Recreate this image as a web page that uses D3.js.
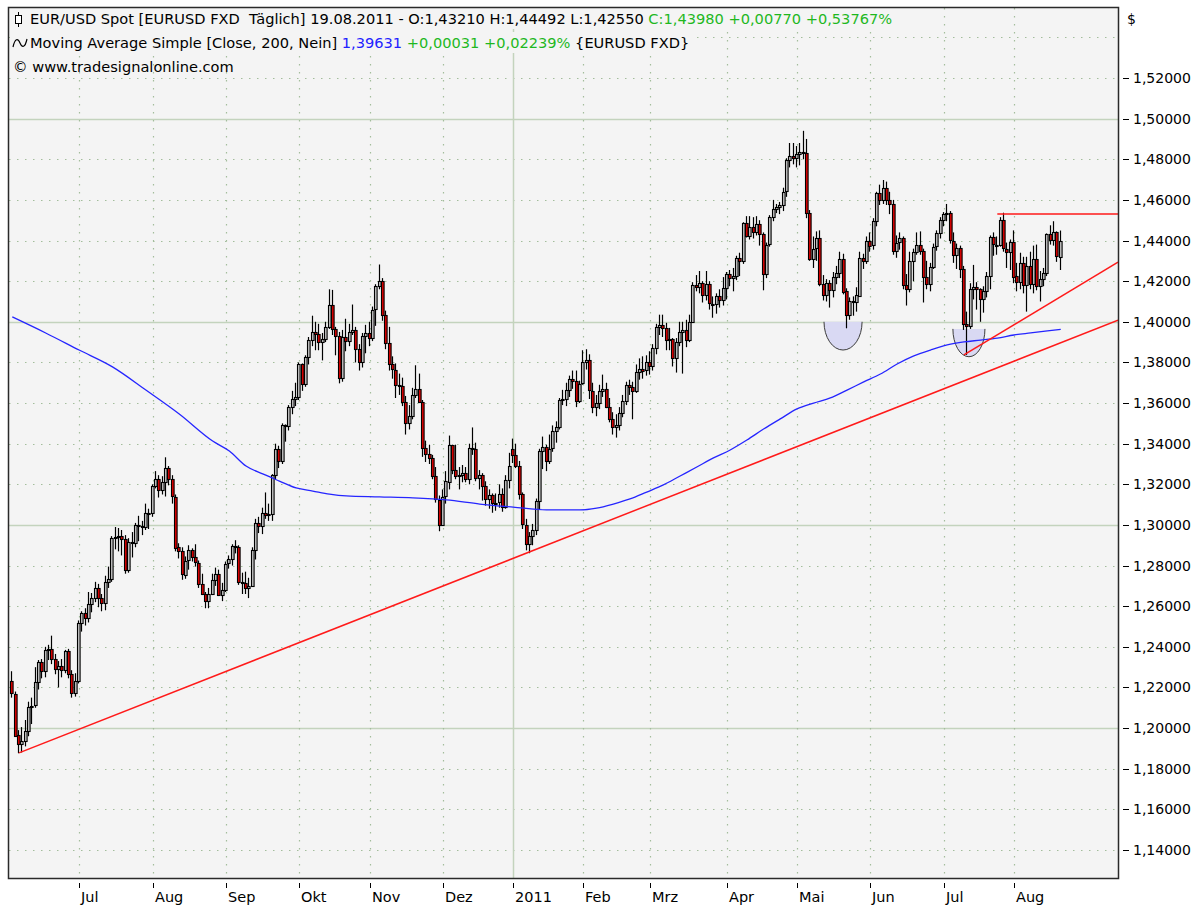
<!DOCTYPE html>
<html>
<head>
<meta charset="utf-8">
<script src="https://cdn.jsdelivr.net/npm/d3@7"></script>
<style>
    body { margin: 0; background: #fff; }
    svg { display: block; }
    text { font-family: "DejaVu Sans", Verdana, sans-serif; fill: #000; }
</style>
</head>
<body>
<svg id="chart" width="1198" height="906"></svg>
<script>
//////////////////////////////////////////////////////////////////////////////
// Data: EUR/USD daily candles [open, high, low, close], one array per month

const jun10 = [
    [1.2230,1.2280,1.2150,1.2170],[1.2170,1.2180,1.1960,1.1965],[1.1965,1.1990,1.1876,1.1920],
    [1.1920,1.2005,1.1880,1.1935],[1.1935,1.2040,1.1910,1.1985],[1.1985,1.2130,1.1960,1.2105],
    [1.2105,1.2150,1.2020,1.2110],[1.2110,1.2300,1.2100,1.2225],[1.2225,1.2335,1.2190,1.2325],
    [1.2325,1.2340,1.2245,1.2280],[1.2280,1.2400,1.2250,1.2385],[1.2385,1.2410,1.2335,1.2390],
    [1.2390,1.2455,1.2315,1.2340],[1.2340,1.2365,1.2265,1.2290],[1.2290,1.2330,1.2200,1.2305],
    [1.2305,1.2340,1.2250,1.2285],[1.2285,1.2385,1.2270,1.2380],[1.2380,1.2390,1.2245,1.2265],
    [1.2265,1.2285,1.2150,1.2170],[1.2170,1.2270,1.2155,1.2230]
];
const jul10 = [
    [1.2230,1.2530,1.2220,1.2515],[1.2515,1.2575,1.2475,1.2565],[1.2565,1.2590,1.2505,1.2540],
    [1.2540,1.2670,1.2520,1.2610],[1.2610,1.2665,1.2570,1.2640],[1.2640,1.2720,1.2620,1.2690],
    [1.2690,1.2710,1.2595,1.2640],[1.2640,1.2660,1.2575,1.2615],[1.2615,1.2750,1.2580,1.2720],
    [1.2720,1.2795,1.2690,1.2735],[1.2735,1.2945,1.2720,1.2935],[1.2935,1.2990,1.2880,1.2940],
    [1.2940,1.2985,1.2870,1.2945],[1.2945,1.2975,1.2850,1.2930],[1.2930,1.2950,1.2760,1.2775],
    [1.2775,1.2935,1.2765,1.2915],[1.2915,1.2965,1.2840,1.2910],[1.2910,1.3010,1.2890,1.3000],
    [1.3000,1.3045,1.2920,1.2995],[1.2995,1.3020,1.2950,1.2990],[1.2990,1.3105,1.2975,1.3060],
    [1.3060,1.3080,1.2980,1.3055]
];
const aug10 = [
    [1.3055,1.3200,1.3040,1.3190],[1.3190,1.3265,1.3180,1.3225],[1.3225,1.3245,1.3135,1.3170],
    [1.3170,1.3240,1.3150,1.3210],[1.3210,1.3333,1.3140,1.3280],[1.3280,1.3290,1.3195,1.3225],
    [1.3225,1.3245,1.3105,1.3140],[1.3140,1.3150,1.2870,1.2890],[1.2890,1.2910,1.2835,1.2870],
    [1.2870,1.2890,1.2730,1.2755],[1.2755,1.2845,1.2735,1.2825],[1.2825,1.2900,1.2780,1.2875],
    [1.2875,1.2885,1.2820,1.2840],[1.2840,1.2905,1.2795,1.2815],[1.2815,1.2825,1.2690,1.2710],
    [1.2710,1.2760,1.2655,1.2660],[1.2660,1.2670,1.2590,1.2625],[1.2625,1.2690,1.2590,1.2660],
    [1.2660,1.2760,1.2655,1.2730],[1.2730,1.2790,1.2700,1.2760],[1.2760,1.2780,1.2650,1.2655],
    [1.2655,1.2715,1.2625,1.2680]
];
const sep10 = [
    [1.2680,1.2820,1.2670,1.2810],[1.2810,1.2850,1.2785,1.2830],[1.2830,1.2905,1.2800,1.2895],
    [1.2895,1.2925,1.2860,1.2890],[1.2890,1.2900,1.2705,1.2720],[1.2720,1.2765,1.2660,1.2715],
    [1.2715,1.2770,1.2660,1.2690],[1.2690,1.2740,1.2640,1.2700],[1.2700,1.2890,1.2695,1.2875],
    [1.2875,1.3030,1.2830,1.3010],[1.3010,1.3040,1.2960,1.2995],[1.2995,1.3085,1.2955,1.3060],
    [1.3060,1.3160,1.3030,1.3050],[1.3050,1.3105,1.3020,1.3055],[1.3055,1.3250,1.3020,1.3245],
    [1.3245,1.3400,1.3225,1.3375],[1.3375,1.3390,1.3280,1.3315],[1.3315,1.3500,1.3300,1.3490],
    [1.3490,1.3495,1.3410,1.3485],[1.3485,1.3590,1.3465,1.3580],[1.3580,1.3660,1.3545,1.3620],
    [1.3620,1.3700,1.3585,1.3630]
];
const oct10 = [
    [1.3630,1.3800,1.3615,1.3790],[1.3790,1.3795,1.3660,1.3690],[1.3690,1.3835,1.3680,1.3825],
    [1.3825,1.3925,1.3790,1.3910],[1.3910,1.4030,1.3880,1.3950],[1.3950,1.4000,1.3860,1.3940],
    [1.3940,1.3990,1.3860,1.3900],[1.3900,1.3945,1.3810,1.3915],[1.3915,1.4000,1.3900,1.3975],
    [1.3975,1.4160,1.3965,1.4085],[1.4085,1.4157,1.3935,1.3965],[1.3965,1.3975,1.3835,1.3930],
    [1.3930,1.3950,1.3697,1.3725],[1.3725,1.3960,1.3705,1.3925],[1.3925,1.4015,1.3855,1.3905],
    [1.3905,1.3990,1.3880,1.3950],[1.3950,1.4085,1.3935,1.3960],[1.3960,1.3975,1.3800,1.3865],
    [1.3865,1.3890,1.3760,1.3800],[1.3800,1.3945,1.3775,1.3930],[1.3930,1.3985,1.3845,1.3945]
];
const nov10 = [
    [1.3945,1.4000,1.3880,1.3920],[1.3920,1.4075,1.3905,1.4060],[1.4060,1.4185,1.3980,1.4175],
    [1.4175,1.4282,1.4160,1.4200],[1.4200,1.4215,1.4005,1.4035],[1.4035,1.4055,1.3865,1.3895],
    [1.3895,1.3975,1.3760,1.3790],[1.3790,1.3830,1.3720,1.3765],[1.3765,1.3795,1.3625,1.3690],
    [1.3690,1.3745,1.3640,1.3685],[1.3685,1.3725,1.3585,1.3605],[1.3605,1.3635,1.3445,1.3500],
    [1.3500,1.3590,1.3470,1.3535],[1.3535,1.3675,1.3520,1.3640],[1.3640,1.3786,1.3625,1.3670],
    [1.3670,1.3745,1.3600,1.3605],[1.3605,1.3615,1.3335,1.3380],[1.3380,1.3415,1.3310,1.3350],
    [1.3350,1.3395,1.3300,1.3330],[1.3330,1.3345,1.3225,1.3240],[1.3240,1.3285,1.3110,1.3125],
    [1.3125,1.3145,1.2969,1.3000]
];
const dec10 = [
    [1.3000,1.3175,1.2995,1.3140],[1.3140,1.3265,1.3105,1.3215],[1.3215,1.3440,1.3175,1.3395],
    [1.3395,1.3395,1.3250,1.3270],[1.3270,1.3395,1.3225,1.3240],[1.3240,1.3285,1.3175,1.3245],
    [1.3245,1.3295,1.3210,1.3255],[1.3255,1.3285,1.3210,1.3225],[1.3225,1.3400,1.3200,1.3380],
    [1.3380,1.3480,1.3345,1.3375],[1.3375,1.3405,1.3215,1.3230],[1.3230,1.3270,1.3175,1.3245],
    [1.3245,1.3255,1.3120,1.3190],[1.3190,1.3215,1.3095,1.3125],[1.3125,1.3175,1.3080,1.3145],
    [1.3145,1.3155,1.3060,1.3105],[1.3105,1.3155,1.3070,1.3110],[1.3110,1.3200,1.3085,1.3150],
    [1.3150,1.3180,1.3065,1.3085],[1.3085,1.3245,1.3080,1.3220],[1.3220,1.3355,1.3180,1.3290]
];
const jan11 = [
    [1.3375,1.3425,1.3305,1.3345],[1.3345,1.3400,1.3280,1.3290],[1.3290,1.3315,1.3125,1.3150],
    [1.3150,1.3160,1.2980,1.3000],[1.3000,1.3030,1.2875,1.2905],[1.2905,1.2965,1.2861,1.2945],
    [1.2945,1.3005,1.2900,1.2975],[1.2975,1.3130,1.2950,1.3120],[1.3120,1.3375,1.3075,1.3365],
    [1.3365,1.3435,1.3275,1.3385],[1.3385,1.3395,1.3265,1.3315],[1.3315,1.3445,1.3300,1.3375],
    [1.3375,1.3490,1.3360,1.3460],[1.3460,1.3510,1.3405,1.3480],[1.3480,1.3625,1.3470,1.3615],
    [1.3615,1.3665,1.3590,1.3620],[1.3620,1.3700,1.3585,1.3665],[1.3665,1.3735,1.3630,1.3720],
    [1.3720,1.3760,1.3670,1.3710],[1.3710,1.3760,1.3580,1.3610],[1.3610,1.3710,1.3600,1.3695]
];
const feb11 = [
    [1.3695,1.3860,1.3690,1.3800],[1.3800,1.3865,1.3765,1.3810],[1.3810,1.3840,1.3620,1.3660],
    [1.3660,1.3700,1.3550,1.3580],[1.3580,1.3640,1.3535,1.3600],[1.3600,1.3690,1.3570,1.3660],
    [1.3660,1.3740,1.3630,1.3670],[1.3670,1.3700,1.3575,1.3580],[1.3580,1.3625,1.3505,1.3520],
    [1.3520,1.3555,1.3445,1.3480],[1.3480,1.3545,1.3430,1.3490],[1.3490,1.3580,1.3465,1.3550],
    [1.3550,1.3640,1.3530,1.3610],[1.3610,1.3705,1.3590,1.3690],[1.3690,1.3715,1.3640,1.3680],
    [1.3680,1.3705,1.3520,1.3660],[1.3660,1.3790,1.3650,1.3755],[1.3755,1.3820,1.3715,1.3770],
    [1.3770,1.3830,1.3720,1.3760],[1.3760,1.3835,1.3735,1.3800]
];
const mar11 = [
    [1.3800,1.3855,1.3740,1.3780],[1.3780,1.3890,1.3760,1.3870],[1.3870,1.3990,1.3840,1.3975],
    [1.3975,1.4035,1.3935,1.3985],[1.3985,1.4035,1.3925,1.3970],[1.3970,1.3995,1.3860,1.3910],
    [1.3910,1.3970,1.3860,1.3915],[1.3915,1.3920,1.3780,1.3820],[1.3820,1.3920,1.3750,1.3900],
    [1.3900,1.4000,1.3880,1.3950],[1.3950,1.4000,1.3745,1.3960],[1.3960,1.4010,1.3875,1.3910],
    [1.3910,1.4035,1.3900,1.4000],[1.4000,1.4195,1.3995,1.4180],[1.4180,1.4230,1.4150,1.4170],
    [1.4170,1.4250,1.4140,1.4190],[1.4190,1.4200,1.4095,1.4130],[1.4130,1.4250,1.4105,1.4185],
    [1.4185,1.4200,1.4060,1.4090],[1.4090,1.4125,1.4020,1.4085],[1.4085,1.4140,1.4040,1.4125],
    [1.4125,1.4160,1.4070,1.4105],[1.4105,1.4220,1.4080,1.4165]
];
const apr11 = [
    [1.4165,1.4245,1.4110,1.4235],[1.4235,1.4255,1.4175,1.4215],[1.4215,1.4265,1.4150,1.4225],
    [1.4225,1.4325,1.4205,1.4315],[1.4315,1.4340,1.4225,1.4300],[1.4300,1.4490,1.4285,1.4485],
    [1.4485,1.4520,1.4415,1.4420],[1.4420,1.4520,1.4405,1.4465],[1.4465,1.4515,1.4410,1.4440],
    [1.4440,1.4520,1.4425,1.4480],[1.4480,1.4500,1.4375,1.4430],[1.4430,1.4440,1.4155,1.4235],
    [1.4235,1.4390,1.4215,1.4380],[1.4380,1.4525,1.4370,1.4515],[1.4515,1.4600,1.4495,1.4555],
    [1.4555,1.4580,1.4535,1.4565],[1.4565,1.4590,1.4530,1.4575],[1.4575,1.4660,1.4545,1.4640],
    [1.4640,1.4805,1.4615,1.4795],[1.4795,1.4880,1.4760,1.4815],[1.4815,1.4880,1.4775,1.4805]
];
const may11 = [
    [1.4805,1.4865,1.4760,1.4825],[1.4825,1.4880,1.4770,1.4835],[1.4835,1.4940,1.4800,1.4830],
    [1.4830,1.4900,1.4510,1.4535],[1.4535,1.4550,1.4300,1.4310],[1.4310,1.4420,1.4265,1.4360],
    [1.4360,1.4445,1.4300,1.4410],[1.4410,1.4450,1.4175,1.4185],[1.4185,1.4230,1.4105,1.4130],
    [1.4130,1.4210,1.4100,1.4190],[1.4190,1.4205,1.4070,1.4155],[1.4155,1.4245,1.4120,1.4220],
    [1.4220,1.4275,1.4185,1.4240],[1.4240,1.4345,1.4215,1.4310],[1.4310,1.4335,1.4135,1.4150],
    [1.4150,1.4165,1.3968,1.4030],[1.4030,1.4120,1.4010,1.4100],[1.4100,1.4125,1.4030,1.4095],
    [1.4095,1.4170,1.4050,1.4130],[1.4130,1.4345,1.4125,1.4315],[1.4315,1.4335,1.4260,1.4300],
    [1.4300,1.4420,1.4285,1.4400]
];
const jun11 = [
    [1.4400,1.4440,1.4345,1.4375],[1.4375,1.4510,1.4355,1.4495],[1.4495,1.4640,1.4470,1.4635],
    [1.4635,1.4675,1.4575,1.4600],[1.4600,1.4698,1.4580,1.4660],[1.4660,1.4690,1.4575,1.4600],
    [1.4600,1.4640,1.4530,1.4580],[1.4580,1.4600,1.4330,1.4350],[1.4350,1.4425,1.4315,1.4390],
    [1.4390,1.4440,1.4355,1.4410],[1.4410,1.4420,1.4160,1.4180],[1.4180,1.4235,1.4080,1.4160],
    [1.4160,1.4345,1.4145,1.4300],[1.4300,1.4360,1.4200,1.4345],[1.4345,1.4440,1.4330,1.4380],
    [1.4380,1.4445,1.4330,1.4350],[1.4350,1.4360,1.4095,1.4220],[1.4220,1.4300,1.4160,1.4185],
    [1.4185,1.4290,1.4150,1.4270],[1.4270,1.4385,1.4260,1.4370],[1.4370,1.4450,1.4350,1.4435],
    [1.4435,1.4515,1.4410,1.4500]
];
const jul11 = [
    [1.4500,1.4540,1.4470,1.4530],[1.4530,1.4580,1.4495,1.4535],[1.4535,1.4545,1.4385,1.4400],
    [1.4400,1.4440,1.4290,1.4330],[1.4330,1.4385,1.4260,1.4365],[1.4365,1.4375,1.4215,1.4260],
    [1.4260,1.4275,1.3960,1.3990],[1.3990,1.4050,1.3837,1.3980],[1.3980,1.4190,1.3965,1.4160],
    [1.4160,1.4280,1.4110,1.4170],[1.4170,1.4195,1.4060,1.4160],[1.4160,1.4165,1.4000,1.4110],
    [1.4110,1.4175,1.4045,1.4150],[1.4150,1.4245,1.4120,1.4225],[1.4225,1.4425,1.4160,1.4415],
    [1.4415,1.4440,1.4325,1.4380],[1.4380,1.4420,1.4330,1.4375],[1.4375,1.4515,1.4370,1.4500],
    [1.4500,1.4537,1.4345,1.4360],[1.4360,1.4390,1.4265,1.4345],[1.4345,1.4405,1.4255,1.4395]
];
const aug11 = [
    [1.4395,1.4450,1.4190,1.4225],[1.4225,1.4290,1.4150,1.4195],[1.4195,1.4340,1.4160,1.4290],
    [1.4290,1.4320,1.4140,1.4180],[1.4180,1.4320,1.4050,1.4275],[1.4275,1.4345,1.4160,1.4185],
    [1.4185,1.4375,1.4140,1.4310],[1.4310,1.4380,1.4155,1.4175],[1.4175,1.4250,1.4100,1.4210],
    [1.4210,1.4265,1.4175,1.4240],[1.4240,1.4435,1.4225,1.4430],[1.4430,1.4475,1.4380,1.4400],
    [1.4400,1.4495,1.4375,1.4440],[1.4440,1.4445,1.4295,1.4321],[1.4321,1.44492,1.4255,1.4398]
];

const monthData   = [jun10, jul10, aug10, sep10, oct10, nov10, dec10, jan11, feb11, mar11, apr11, may11, jun11, jul11, aug11];
const monthLabels = [null, "Jul", "Aug", "Sep", "Okt", "Nov", "Dez", "2011", "Feb", "Mrz", "Apr", "Mai", "Jun", "Jul", "Aug"];

// 200-day simple moving average, read every few trading days
const maDays   = [0, 10, 20, 30, 40, 50, 60, 65, 70, 75, 80, 85, 90, 95, 100, 110, 120, 130, 140, 150, 160, 170, 175, 180, 185,
                  190, 195, 200, 205, 210, 215, 220, 225, 230, 235, 240, 245, 250, 255, 260, 265, 270, 275, 280, 285, 290, 295,
                  300, 305, 310, 314];
const maValues = [1.4024, 1.3945, 1.3861, 1.3778, 1.3664, 1.3546, 1.3413, 1.3364, 1.3290, 1.3251, 1.3216, 1.3182, 1.3167,
                  1.3152, 1.3143, 1.3138, 1.3133, 1.3123, 1.3103, 1.3088, 1.3074, 1.3074, 1.3083, 1.3103, 1.3128, 1.3162,
                  1.3197, 1.3241, 1.3285, 1.3330, 1.3369, 1.3418, 1.3472, 1.3522, 1.3571, 1.3600, 1.3625, 1.3664, 1.3704,
                  1.3743, 1.3792, 1.3832, 1.3861, 1.3886, 1.3901, 1.3910, 1.3920, 1.3935, 1.3945, 1.3955, 1.3963];

// drawn annotations: [day index, price]
const supportLine    = [[2, 1.1878], [155, 1.2868]];
const shortTrendLine = [[285, 1.3837], [331.2, 1.4294]];
const resistance     = [[295, 1.4531], [331.2, 1.4531]];
const bowls = [
    { day: 248.8, halfWidth: 5.7, top: 1.4000, bottom: 1.3861 },
    { day: 286.5, halfWidth: 4.8, top: 1.3965, bottom: 1.3828 }
];

const maLabel = { value: "1,39631", change: "+0,00031 +0,02239%" };
const yTicks = d3.range(1.14, 1.5401, 0.02);

//////////////////////////////////////////////////////////////////////////////
// Layout and scales

const plot = { left: 9, top: 8, right: 1118, bottom: 878 };
const step = 3.339;

const candles = monthData.flat().map(function(c, i) {
    return { i: i, o: c[0], h: c[1], l: c[2], c: c[3] };
});

let monthStarts = [];
let count = 0;
monthData.forEach(function(m, k) {
    if (monthLabels[k]) monthStarts.push({ i: count, label: monthLabels[k] });
    count += m.length;
});

const xScale = d3.scaleLinear().domain([0, candles.length - 1]).range([12.3, 12.3 + (candles.length - 1) * step]);
const yScale = d3.scaleLinear().domain([1.14, 1.52]).range([850, 78]);
const xMax = xScale.invert(plot.right);

const de = d3.formatLocale({ decimal: ",", thousands: ".", grouping: [3], currency: ["", "$"] });
const fmt5 = de.format(".5f");
const fmtSigned = de.format("+.5f");

const svg = d3.select("#chart");

svg.append("defs").append("clipPath").attr("id", "plotClip")
    .append("rect")
    .attr("x", plot.left).attr("y", plot.top)
    .attr("width", plot.right - plot.left).attr("height", plot.bottom - plot.top);

svg.append("rect")
    .attr("x", plot.left).attr("y", plot.top)
    .attr("width", plot.right - plot.left).attr("height", plot.bottom - plot.top)
    .attr("fill", "#f4f4f4");

//////////////////////////////////////////////////////////////////////////////
// Grid

const grid = svg.append("g").attr("clip-path", "url(#plotClip)");

function isMajor(v) { return Math.abs(v * 10 - Math.round(v * 10)) < 1e-6; }

grid.selectAll("line.h")
    .data(yTicks)
    .enter()
    .append("line")
    .attr("x1", plot.left).attr("x2", plot.right)
    .attr("y1", d => Math.round(yScale(d)) + 0.5)
    .attr("y2", d => Math.round(yScale(d)) + 0.5)
    .attr("stroke", d => isMajor(d) ? "#c3d3bd" : "#a3bd9c")
    .attr("stroke-width", d => isMajor(d) ? 1.5 : 1.2)
    .attr("stroke-dasharray", d => isMajor(d) ? null : "1.5,6.5");

grid.selectAll("line.v")
    .data(monthStarts)
    .enter()
    .append("line")
    .attr("x1", d => Math.round(xScale(d.i)) + 0.5)
    .attr("x2", d => Math.round(xScale(d.i)) + 0.5)
    .attr("y1", plot.top).attr("y2", plot.bottom)
    .attr("stroke", d => d.label === "2011" ? "#c3d3bd" : "#a3bd9c")
    .attr("stroke-width", d => d.label === "2011" ? 1.5 : 1.2)
    .attr("stroke-dasharray", d => d.label === "2011" ? null : "1.5,6.5");

//////////////////////////////////////////////////////////////////////////////
// Header legend

const last = candles[candles.length - 1];
const prev = candles[candles.length - 2];
const change = last.c - prev.c;

const header = svg.append("g");
const lines = [
    { y: 24, x: 30, parts: [
        ["EUR/USD Spot [EURUSD FXD  Täglich] 19.08.2011 - O:" + fmt5(last.o) + " H:" + fmt5(last.h) + " L:" + fmt5(last.l) + " ", "#000"],
        ["C:" + fmt5(last.c) + " " + fmtSigned(change) + " " + fmtSigned(change / prev.c * 100) + "%", "#1fb81f"]
    ] },
    { y: 48, x: 30, parts: [
        ["Moving Average Simple [Close, 200, Nein] ", "#000"],
        [maLabel.value + " ", "#2222ff"],
        [maLabel.change + " ", "#1fb81f"],
        ["{EURUSD FXD}", "#000"]
    ] },
    { y: 72, x: 13, parts: [["© www.tradesignalonline.com", "#000"]] }
];

lines.forEach(function(ln, k) {
    const t = header.append("text")
        .attr("x", ln.x).attr("y", ln.y)
        .attr("font-size", 14.6)
        .style("white-space", "pre");
    ln.parts.forEach(function(p) {
        t.append("tspan").attr("fill", p[1]).style("fill", p[1]).text(p[0]);
    });
    if (k < 2) {
        const bb = t.node().getBBox();
        header.insert("rect", "text")
            .attr("x", 10).attr("y", bb.y - 2)
            .attr("width", bb.x + bb.width - 8).attr("height", bb.height + 4)
            .attr("fill", "#f4f4f4");
    }
});

// small candle icon and wave icon in front of the two legend lines
header.append("line").attr("x1", 18.5).attr("x2", 18.5).attr("y1", 12).attr("y2", 27).attr("stroke", "#000");
header.append("rect").attr("x", 15.5).attr("y", 15.5).attr("width", 6).attr("height", 8)
    .attr("fill", "#fff").attr("stroke", "#000");
header.append("path")
    .attr("d", "M13,47 C15,38 18,38 20,43 C22,48 25,48 27,39")
    .attr("fill", "none").attr("stroke", "#000").attr("stroke-width", 1.2);

//////////////////////////////////////////////////////////////////////////////
// Marks

const marks = svg.append("g").attr("clip-path", "url(#plotClip)");

marks.selectAll("path.bowl")
    .data(bowls)
    .enter()
    .append("path")
    .attr("d", function(d) {
        const x1 = xScale(d.day - d.halfWidth), x2 = xScale(d.day + d.halfWidth);
        const yt = yScale(d.top), ry = yScale(d.bottom) - yScale(d.top);
        return "M" + x1 + "," + yt + " A" + (x2 - x1) / 2 + "," + ry + " 0 0 0 " + x2 + "," + yt;
    })
    .attr("fill", "#d9d9f3")
    .attr("stroke", "#3c3c3c")
    .attr("stroke-width", 1);

const candleG = marks.append("g");

candleG.selectAll("line.wick")
    .data(candles)
    .enter()
    .append("line")
    .attr("x1", d => Math.round(xScale(d.i)) - 0.5)
    .attr("x2", d => Math.round(xScale(d.i)) - 0.5)
    .attr("y1", d => yScale(d.h))
    .attr("y2", d => yScale(d.l))
    .attr("stroke", "#000")
    .attr("stroke-width", 1.2);

candleG.selectAll("rect.body")
    .data(candles)
    .enter()
    .append("rect")
    .attr("x", d => Math.round(xScale(d.i)) - 1.5)
    .attr("width", 2.6)
    .attr("y", d => Math.round(yScale(Math.max(d.o, d.c))) + 0.5)
    .attr("height", d => Math.max(1, Math.round(Math.abs(yScale(d.o) - yScale(d.c)))))
    .attr("fill", d => d.c >= d.o ? "#c2c2c2" : "#dd0000")
    .attr("stroke", "#000")
    .attr("stroke-width", 1.1);

const maLine = d3.line()
    .x((d, k) => xScale(maDays[k]))
    .y(d => yScale(d))
    .curve(d3.curveMonotoneX);

marks.append("path")
    .datum(maValues)
    .attr("d", maLine)
    .attr("fill", "none")
    .attr("stroke", "#2525ff")
    .attr("stroke-width", 1.3);

function extendLine(pts) {
    const [a, b] = pts;
    const slope = (b[1] - a[1]) / (b[0] - a[0]);
    return [a, [xMax, a[1] + slope * (xMax - a[0])]];
}

marks.selectAll("path.trend")
    .data([extendLine(supportLine), extendLine(shortTrendLine), extendLine(resistance)])
    .enter()
    .append("path")
    .attr("d", d3.line().x(d => xScale(d[0])).y(d => yScale(d[1])))
    .attr("fill", "none")
    .attr("stroke", "#ff1a1a")
    .attr("stroke-width", 1.5);

//////////////////////////////////////////////////////////////////////////////
// Frame and axes

svg.append("rect")
    .attr("x", plot.left - 0.5).attr("y", plot.top - 0.5)
    .attr("width", plot.right - plot.left + 1).attr("height", plot.bottom - plot.top + 1)
    .attr("fill", "none")
    .attr("stroke", "#2a2a2a")
    .attr("stroke-width", 1.5);

const yAxis = svg.append("g");
const yLabels = yTicks.filter(v => v < 1.5301);

yAxis.selectAll("line")
    .data(yLabels)
    .enter()
    .append("line")
    .attr("x1", 1123).attr("x2", 1129)
    .attr("y1", d => Math.round(yScale(d)) + 0.5)
    .attr("y2", d => Math.round(yScale(d)) + 0.5)
    .attr("stroke", "#000");

yAxis.selectAll("text")
    .data(yLabels)
    .enter()
    .append("text")
    .attr("x", 1133)
    .attr("y", d => yScale(d) + 5)
    .attr("font-size", 14)
    .text(d => fmt5(d));

yAxis.append("text")
    .attr("x", 1127).attr("y", 24)
    .attr("font-size", 14)
    .text("$");

const xAxis = svg.append("g");

xAxis.selectAll("line")
    .data(monthStarts)
    .enter()
    .append("line")
    .attr("x1", d => Math.round(xScale(d.i)) + 0.5)
    .attr("x2", d => Math.round(xScale(d.i)) + 0.5)
    .attr("y1", 883).attr("y2", 888)
    .attr("stroke", "#000");

xAxis.selectAll("text")
    .data(monthStarts)
    .enter()
    .append("text")
    .attr("x", d => Math.round(xScale(d.i)) + 2)
    .attr("y", 902)
    .attr("font-size", 14.5)
    .text(d => d.label);
</script>
</body>
</html>
